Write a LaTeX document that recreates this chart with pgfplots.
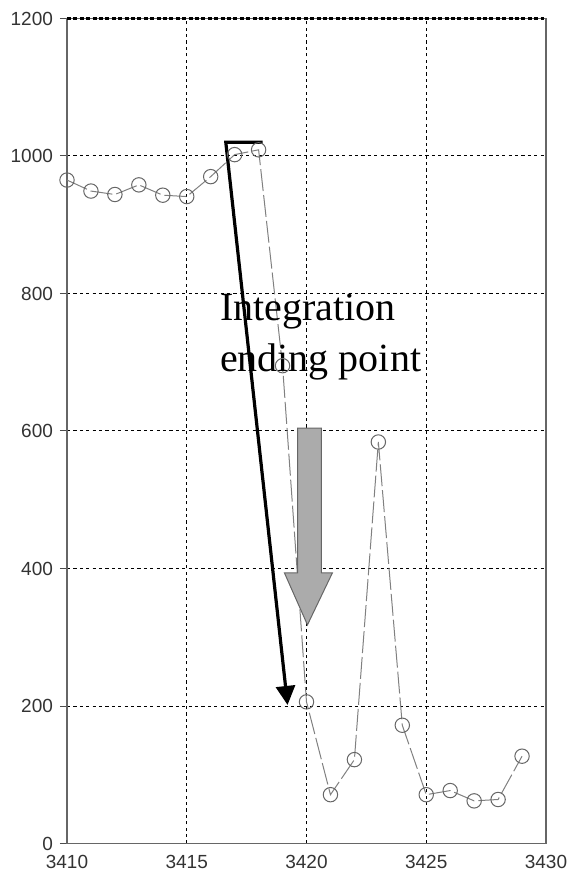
\documentclass[border=0pt]{standalone}
\usepackage{fontspec}
\setmainfont{Liberation Sans}
\newfontfamily\timesfont{Liberation Serif}
\usepackage{pgfplots}
\pgfplotsset{compat=1.18}
\usetikzlibrary{arrows.meta}
\begin{document}
\begin{tikzpicture}
\begin{axis}[name=ax, scale only axis, width=239.5pt, height=412.5pt,
  xmin=3410, xmax=3430, ymin=0, ymax=1200,
  xtick={3410,3415,3420,3425,3430}, ytick={0,200,400,600,800,1000,1200},
  ytick pos=left, xtick pos=bottom,
  /pgf/number format/1000 sep={}, /pgf/number format/assume math mode=true,
  ticklabel style={font=\fontsize{9.5}{11}\selectfont, text=black!80},
  xticklabel style={yshift=1pt},
  grid=major, grid style={black, dash pattern=on 1.6pt off 1.6pt, line width=0.5pt},
  axis line style={draw=black!60, line width=0.6pt},
  tick align=outside, major tick length=3.5pt,
  xtick style={draw=none}, ytick style={draw=black!70, line width=0.5pt},
  clip=false,
]
\addplot[color=black!50, line width=0.5pt, dash pattern=on 11pt off 2pt,
  mark=o, mark size=3.6pt, mark options={solid, draw=black!60, fill=white, line width=0.5pt}]
  coordinates {
  (3410,965) (3411,949) (3412,944) (3413,958) (3414,943) (3415,941)
  (3416,970) (3417,1002) (3418,1009) (3419,695) (3420,206) (3421,71)
  (3422,122) (3423,584) (3424,172) (3425,71) (3426,77) (3427,62)
  (3428,64) (3429,127)
  };
\draw[black, line width=1.1pt, dash pattern=on 2pt off 1.2pt]
  (axis cs:3410,1200) -- (axis cs:3429.9,1200);
\draw[line width=1.6pt, line join=miter, -{Triangle[length=9.5pt,width=9.5pt]}]
  (axis cs:3418.17,1020) -- (axis cs:3416.63,1020) -- (axis cs:3419.21,201.5);
\draw[fill=black!33, draw=black!60, line width=0.5pt]
  (axis cs:3419.625,604) -- (axis cs:3420.625,604) -- (axis cs:3420.625,393.5)
  -- (axis cs:3421.08,393.5) -- (axis cs:3420.04,318) -- (axis cs:3419.08,393.5)
  -- (axis cs:3419.625,393.5) -- cycle;
\node[anchor=base west, inner sep=0pt, font=\timesfont\fontsize{20}{24}\selectfont]
  at (axis cs:3416.375,760) {Integration};
\node[anchor=base west, inner sep=0pt, font=\timesfont\fontsize{20}{24}\selectfont]
  at (axis cs:3416.375,686) {ending point};
\end{axis}
\pgfresetboundingbox
\path (ax.south west) -- ++(-33.5pt,-15.75pt);
\path (ax.north east) -- ++(12.5pt,9.25pt);
\end{tikzpicture}
\end{document}
